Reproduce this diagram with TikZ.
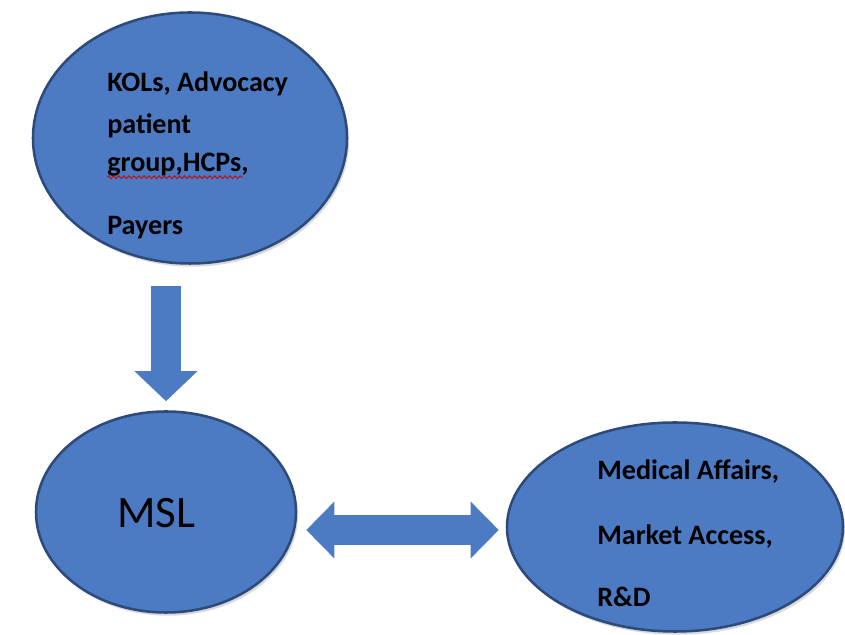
\documentclass[tikz,border=0pt]{standalone}
\usepackage{fontspec}
\setmainfont{Carlito}
\usetikzlibrary{arrows.meta,decorations.pathmorphing,shapes.geometric,shadows}

\definecolor{ovalblue}{RGB}{76,123,196}
\definecolor{ovalrim}{RGB}{44,74,122}

\tikzset{
  oval/.style={ellipse, fill=ovalblue, draw=ovalrim, line width=1.8pt, inner sep=0pt,
    drop shadow={opacity=0.3, shadow xshift=0.05cm, shadow yshift=-0.08cm}},
  lbl/.style={anchor=base west, inner sep=0pt, font=\bfseries\fontsize{20}{23}\selectfont},
  blockarrow/.style={draw=ovalblue, line width=0.75cm},
}

\begin{document}
\begin{tikzpicture}

	\useasboundingbox (0,0) rectangle (21.125,15.875);

	\node[oval, minimum width=7.85cm, minimum height=6.275cm] (kol) at (4.75,12.425) {};
	\node[oval, minimum width=6.5cm, minimum height=5.025cm] (msl) at (4.15,3.075) {};
	\node[oval, minimum width=8.4cm, minimum height=5.225cm] (dept) at (16.875,2.7) {};

   \node[lbl] (kol1) at (2.675,13.575) {KOLs, Advocacy};
   \node[lbl] (kol2) at (2.675,12.525) {patient};
   \node[lbl] (kol3) at (2.675,11.575) {group,HCPs,};
   \node[lbl] (kol4) at (2.675,10.0) {Payers};

   \node[anchor=base west, inner sep=0pt, font=\fontsize{32}{37}\selectfont] (msltext) at (2.925,2.675) {MSL};

   \node[lbl] (dept1) at (14.925,3.875) {Medical Affairs,};
   \node[lbl] (dept2) at (14.925,2.25) {Market Access,};
   \node[lbl] (dept3) at (14.925,0.7) {R\&D};

%	spell check wave
	\draw[red!80!black, line width=0.6pt, decorate, decoration={snake, amplitude=1pt, segment length=3.6pt}]
		([yshift=-0.13cm]kol3.base west) -- ([yshift=-0.13cm, xshift=-0.15cm]kol3.base east);

	\draw[blockarrow, -{Triangle[length=0.75cm, width=1.525cm]}, shorten <=0.5375cm, shorten >=0.225cm]
		(msl.north |- kol.south) -- (msl.north);
	\draw[blockarrow, {Triangle[length=0.7cm, width=1.375cm]}-{Triangle[length=0.7cm, width=1.375cm]}, shorten <=0.225cm, shorten >=0.175cm]
		([yshift=-0.45cm]msl.east) -- ([yshift=-0.075cm]dept.west);
\end{tikzpicture}
\end{document}
